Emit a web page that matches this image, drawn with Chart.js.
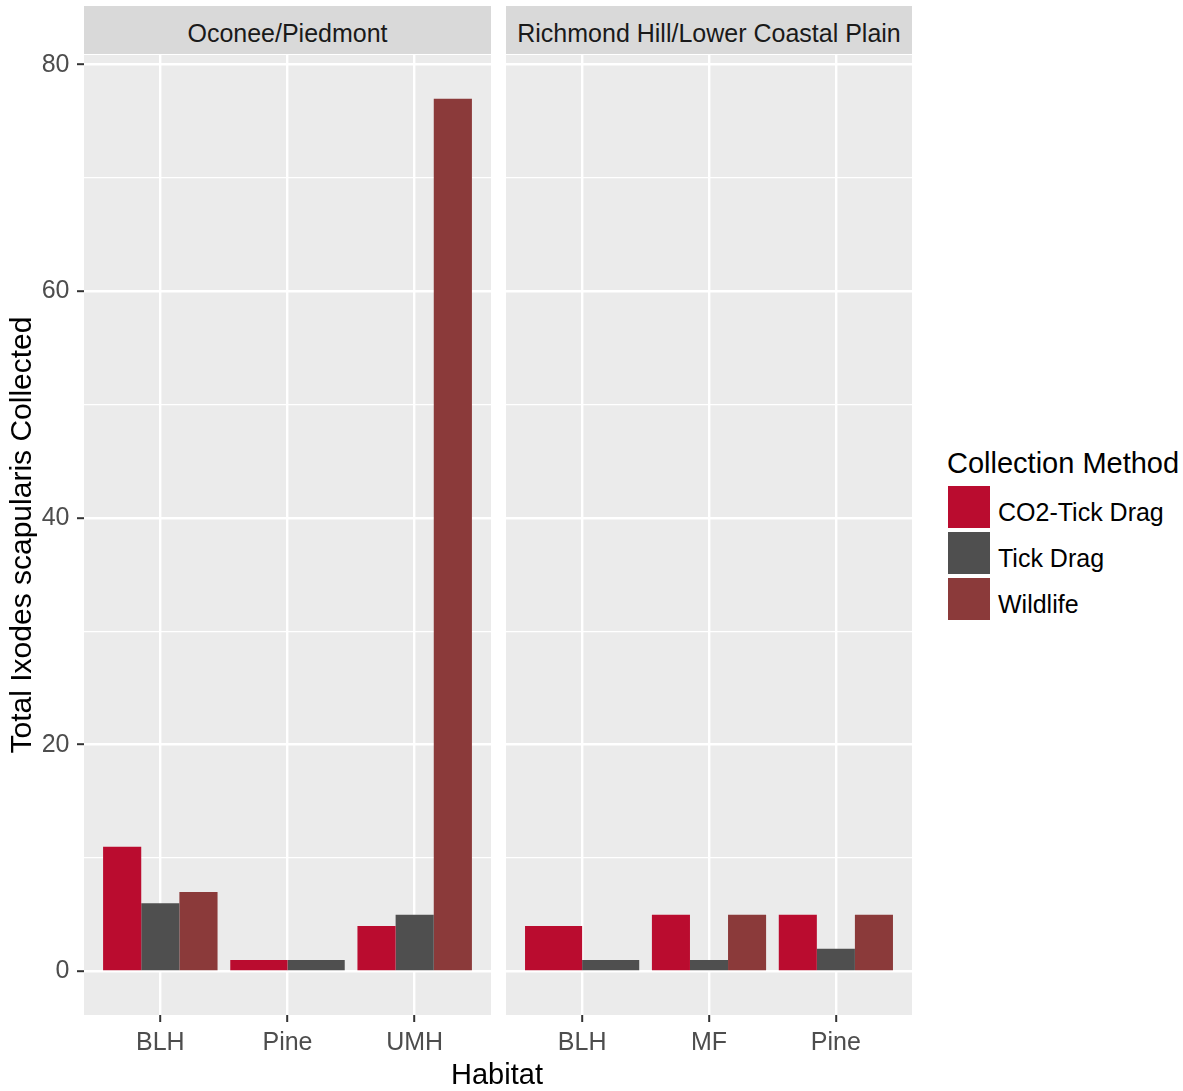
<!DOCTYPE html>
<html>
<head>
<meta charset="utf-8">
<title>Total Ixodes scapularis Collected by Habitat</title>
<script src="https://cdn.jsdelivr.net/npm/chart.js@4.4.1/dist/chart.umd.min.js"></script>
<style>
  html, body { margin: 0; padding: 0; background: #ffffff; }
  body {
    width: 1183px; height: 1091px; position: relative; overflow: hidden;
    font-family: "Liberation Sans", Arial, sans-serif;
  }
  canvas { position: absolute; top: 0; }
  .strip {
    position: absolute; top: 6px; height: 48px; box-sizing: border-box;
    background: #D9D9D9; color: #1A1A1A; font-size: 25px;
    line-height: 48px; padding-top: 3.2px; text-align: center; white-space: nowrap;
  }
  .xtitle {
    position: absolute; top: 1060px; left: 347px; width: 300px;
    text-align: center; font-size: 29px; line-height: 29px; color: #000000;
  }
  .legend-title {
    position: absolute; left: 947px; top: 448.5px; font-size: 29px;
    line-height: 29px; color: #000000; white-space: nowrap;
  }
  .key { position: absolute; left: 948px; width: 42px; height: 42px; }
  .key-label {
    position: absolute; left: 998px; font-size: 25px; line-height: 42px;
    color: #000000; white-space: nowrap;
  }
</style>
</head>
<body>
<div class="strip" id="strip1" style="left:84px;width:407px;"></div>
<div class="strip" id="strip2" style="left:506px;width:406px;"></div>
<canvas id="panel1" width="495" height="1091" style="left:0px;width:495px;height:1091px;"></canvas>
<canvas id="panel2" width="415" height="1091" style="left:500px;width:415px;height:1091px;"></canvas>
<div class="xtitle" id="xtitle"></div>
<div id="legend"></div>

<script>
// Facets (region / physiographic province)
const panelNames = ['Oconee/Piedmont', 'Richmond Hill/Lower Coastal Plain'];

// Habitat categories in each facet
const oconeeHabitats = ['BLH', 'Pine', 'UMH'];
const richmondHabitats = ['BLH', 'MF', 'Pine'];

// Collection methods (fill groups)
const methods = ['CO2-Tick Drag', 'Tick Drag', 'Wildlife'];
const methodColors = ['#BA0C2F', '#4F4F4F', '#8B3A3A'];

// Total ticks collected; null = method not used in that habitat
const oconeeCO2 = [11, 1, 4];
const oconeeTickDrag = [6, 1, 5];
const oconeeWildlife = [7, null, 77];

const richmondCO2 = [4, 5, 5];
const richmondTickDrag = [1, 1, 2];
const richmondWildlife = [null, 5, 5];

// Axis labelling
const yLabeledStep = 20;
const yMinorStep = 10;
const yTitle = 'Total Ixodes scapularis Collected';
const xTitle = 'Habitat';
const legendTitle = 'Collection Method';

const FONT = '"Liberation Sans", Arial, sans-serif';

// y range: data range padded by 5% on each side
const allValues = [].concat(oconeeCO2, oconeeTickDrag, oconeeWildlife,
  richmondCO2, richmondTickDrag, richmondWildlife).filter(v => v !== null);
const dataMin = Math.min(0, ...allValues);
const dataMax = Math.max(...allValues);
const yPad = (dataMax - dataMin) * 0.05;
const yMin = dataMin - yPad;
const yMax = dataMax + yPad;

// Grey panel behind the grid
const panelBackground = {
  id: 'panelBackground',
  beforeDraw(chart) {
    const { ctx, chartArea: a } = chart;
    ctx.save();
    ctx.fillStyle = '#EBEBEB';
    ctx.fillRect(a.left, a.top, a.right - a.left, a.bottom - a.top);
    ctx.restore();
  }
};

function isLabeled(v) { return Math.abs(v % yLabeledStep) < 1e-9; }

function panelConfig(habitats, seriesValues, withYAxis, padding) {
  const datasets = methods.map((name, k) => ({
    label: name,
    data: habitats
      .map((h, i) => ({ x: i, y: seriesValues[k][i] }))
      .filter(p => p.y !== null),
    backgroundColor: methodColors[k],
    borderWidth: 0,
    skipNull: true,
    categoryPercentage: 0.9,
    barPercentage: 1.0
  }));

  return {
    type: 'bar',
    data: { datasets },
    plugins: [panelBackground],
    options: {
      responsive: false,
      animation: false,
      events: [],
      layout: { padding },
      plugins: {
        legend: { display: false },
        tooltip: { enabled: false },
        title: { display: false }
      },
      scales: {
        x: {
          type: 'linear',
          offset: false,
          min: -0.6,
          max: habitats.length - 1 + 0.6,
          border: { display: false },
          grid: {
            offset: false,
            color: '#FFFFFF', lineWidth: 2.4,
            drawTicks: true, tickLength: 7, tickColor: '#333333', tickWidth: 2
          },
          ticks: {
            stepSize: 1, includeBounds: false, autoSkip: false, maxRotation: 0,
            padding: 6, color: '#4D4D4D', font: { family: FONT, size: 25 },
            callback: v => (Number.isInteger(v) && habitats[v] !== undefined) ? habitats[v] : ''
          },
          afterFit: s => { s.height = 76; }
        },
        y: {
          min: yMin,
          max: yMax,
          border: { display: false },
          grid: {
            color: '#FFFFFF',
            lineWidth: c => (c.tick && isLabeled(c.tick.value)) ? 2.4 : 1.2,
            drawTicks: withYAxis,
            tickLength: 7,
            tickWidth: 2,
            tickColor: c => (c.tick && isLabeled(c.tick.value)) ? '#333333' : 'rgba(0,0,0,0)'
          },
          ticks: {
            display: withYAxis,
            stepSize: yMinorStep, includeBounds: false,
            padding: 7.5, color: '#4D4D4D', font: { family: FONT, size: 25 },
            callback: v => isLabeled(v) ? String(v) : ''
          },
          title: {
            display: withYAxis,
            text: yTitle,
            color: '#000000',
            font: { family: FONT, size: 30, lineHeight: 1.2 },
            padding: { top: 5, bottom: 0 }
          },
          afterFit: s => { s.width = withYAxis ? 84 : 0; }
        }
      }
    }
  };
}

new Chart(document.getElementById('panel1'),
  panelConfig(oconeeHabitats, [oconeeCO2, oconeeTickDrag, oconeeWildlife], true,
    { left: 0, right: 4, top: 55, bottom: 0 }));

new Chart(document.getElementById('panel2'),
  panelConfig(richmondHabitats, [richmondCO2, richmondTickDrag, richmondWildlife], false,
    { left: 6, right: 3, top: 55, bottom: 0 }));

// Facet strips, x title and legend text
document.getElementById('strip1').textContent = panelNames[0];
document.getElementById('strip2').textContent = panelNames[1];
document.getElementById('xtitle').textContent = xTitle;

const legend = document.getElementById('legend');
const lt = document.createElement('div');
lt.className = 'legend-title';
lt.textContent = legendTitle;
legend.appendChild(lt);
methods.forEach((name, k) => {
  const top = 486 + k * 46;
  const key = document.createElement('div');
  key.className = 'key';
  key.style.top = top + 'px';
  key.style.background = methodColors[k];
  legend.appendChild(key);
  const label = document.createElement('div');
  label.className = 'key-label';
  label.style.top = (top + 5) + 'px';
  label.textContent = name;
  legend.appendChild(label);
});
</script>
</body>
</html>
